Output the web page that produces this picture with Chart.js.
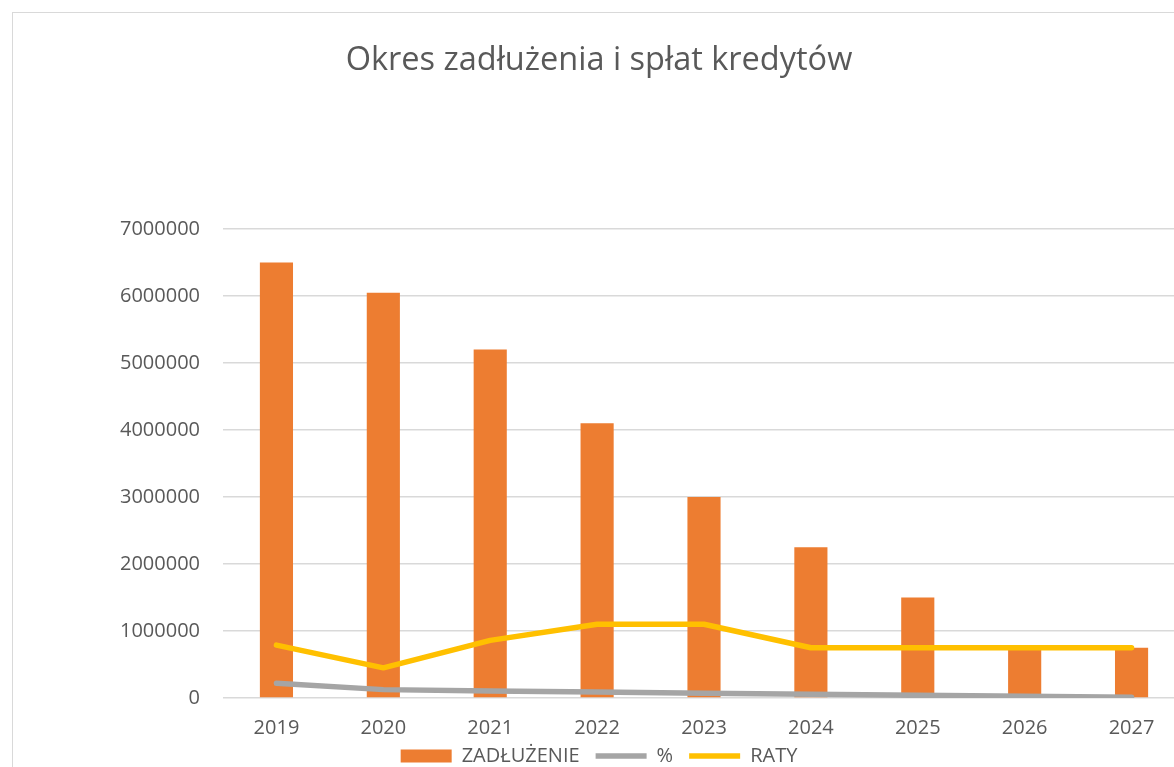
<!DOCTYPE html>
<html>
<head>
<meta charset="utf-8">
<script src="https://cdn.jsdelivr.net/npm/chart.js@4"></script>
<style>
  html, body { margin: 0; padding: 0; background: #fff; overflow: hidden; }
  #frame {
    position: absolute; left: 12px; top: 12px;
    width: 1180px; height: 800px;
    border: 1px solid #d9d9d9;
  }
  #canvas { display: block; }
</style>
</head>
<body>
<div id="frame">
  <canvas id="canvas" width="1172" height="771"></canvas>
</div>
<script>
const years = ["2019", "2020", "2021", "2022", "2023", "2024", "2025", "2026", "2027"];
const zadluzenie = [6500000, 6050000, 5200000, 4100000, 3000000, 2250000, 1500000, 750000, 750000];
const procent = [220000, 125000, 105000, 90000, 70000, 55000, 40000, 25000, 10000];
const raty = [790000, 450000, 860000, 1100000, 1100000, 750000, 750000, 750000, 750000];
const yTicks = [0, 1000000, 2000000, 3000000, 4000000, 5000000, 6000000, 7000000];

const canvas = document.getElementById("canvas");
const textColor = "#595959";
const fontName = "'Open Sans', sans-serif";

// pull the legend a bit closer to the year labels
const legendUp = {
  id: 'legendUp',
  afterLayout(chart) {
    chart.legend.top -= 8;
    chart.legend.bottom -= 8;
  }
};

const myChart = new Chart(canvas, {
  type: 'bar',
  data: {
    labels: years,
    datasets: [
      {
        type: 'bar',
        label: "ZADŁUŻENIE",
        data: zadluzenie,
        backgroundColor: '#ED7D31',
        borderWidth: 0,
        categoryPercentage: 1,
        barPercentage: 0.31,
        pointStyle: 'rect',
        order: 3
      },
      {
        type: 'line',
        label: "%",
        data: procent,
        borderColor: '#A5A5A5',
        backgroundColor: '#A5A5A5',
        borderWidth: 5.5,
        borderCapStyle: 'round',
        borderJoinStyle: 'round',
        pointRadius: 0,
        pointStyle: 'line',
        order: 2
      },
      {
        type: 'line',
        label: "RATY",
        data: raty,
        borderColor: '#FFC000',
        backgroundColor: '#FFC000',
        borderWidth: 5.5,
        borderCapStyle: 'round',
        borderJoinStyle: 'round',
        pointRadius: 0,
        pointStyle: 'line',
        order: 1
      }
    ]
  },
  options: {
    responsive: false,
    animation: false,
    layout: { padding: 0 },
    plugins: {
      title: {
        display: true,
        text: "Okres zadłużenia i spłat kredytów",
        color: textColor,
        font: { family: fontName, size: 32.5, weight: 'normal' },
        padding: { top: 28, bottom: 149 }
      },
      legend: {
        position: 'bottom',
        labels: {
          color: textColor,
          font: { family: fontName, size: 20 },
          usePointStyle: true,
          pointStyleWidth: 51,
          boxHeight: 13,
          padding: 16,
          sort: (a, b) => a.datasetIndex - b.datasetIndex
        }
      },
      tooltip: { enabled: false }
    },
    scales: {
      x: {
        afterFit: (scale) => { scale.height = 40; },
        grid: { display: false, drawTicks: false },
        border: { display: false },
        ticks: {
          color: textColor,
          font: { family: fontName, size: 20 },
          padding: 18,
          maxRotation: 0
        }
      },
      y: {
        min: 0,
        max: 7000000,
        afterFit: (scale) => { scale.width = 210; },
        afterBuildTicks: (scale) => { scale.ticks = yTicks.map(v => ({ value: v })); },
        grid: { color: '#d9d9d9', lineWidth: 1.5, drawTicks: false },
        border: { display: false },
        ticks: {
          color: textColor,
          font: { family: fontName, size: 20 },
          padding: 23,
          callback: (v) => String(v)
        }
      }
    }
  },
  plugins: [legendUp]
});
</script>
</body>
</html>
